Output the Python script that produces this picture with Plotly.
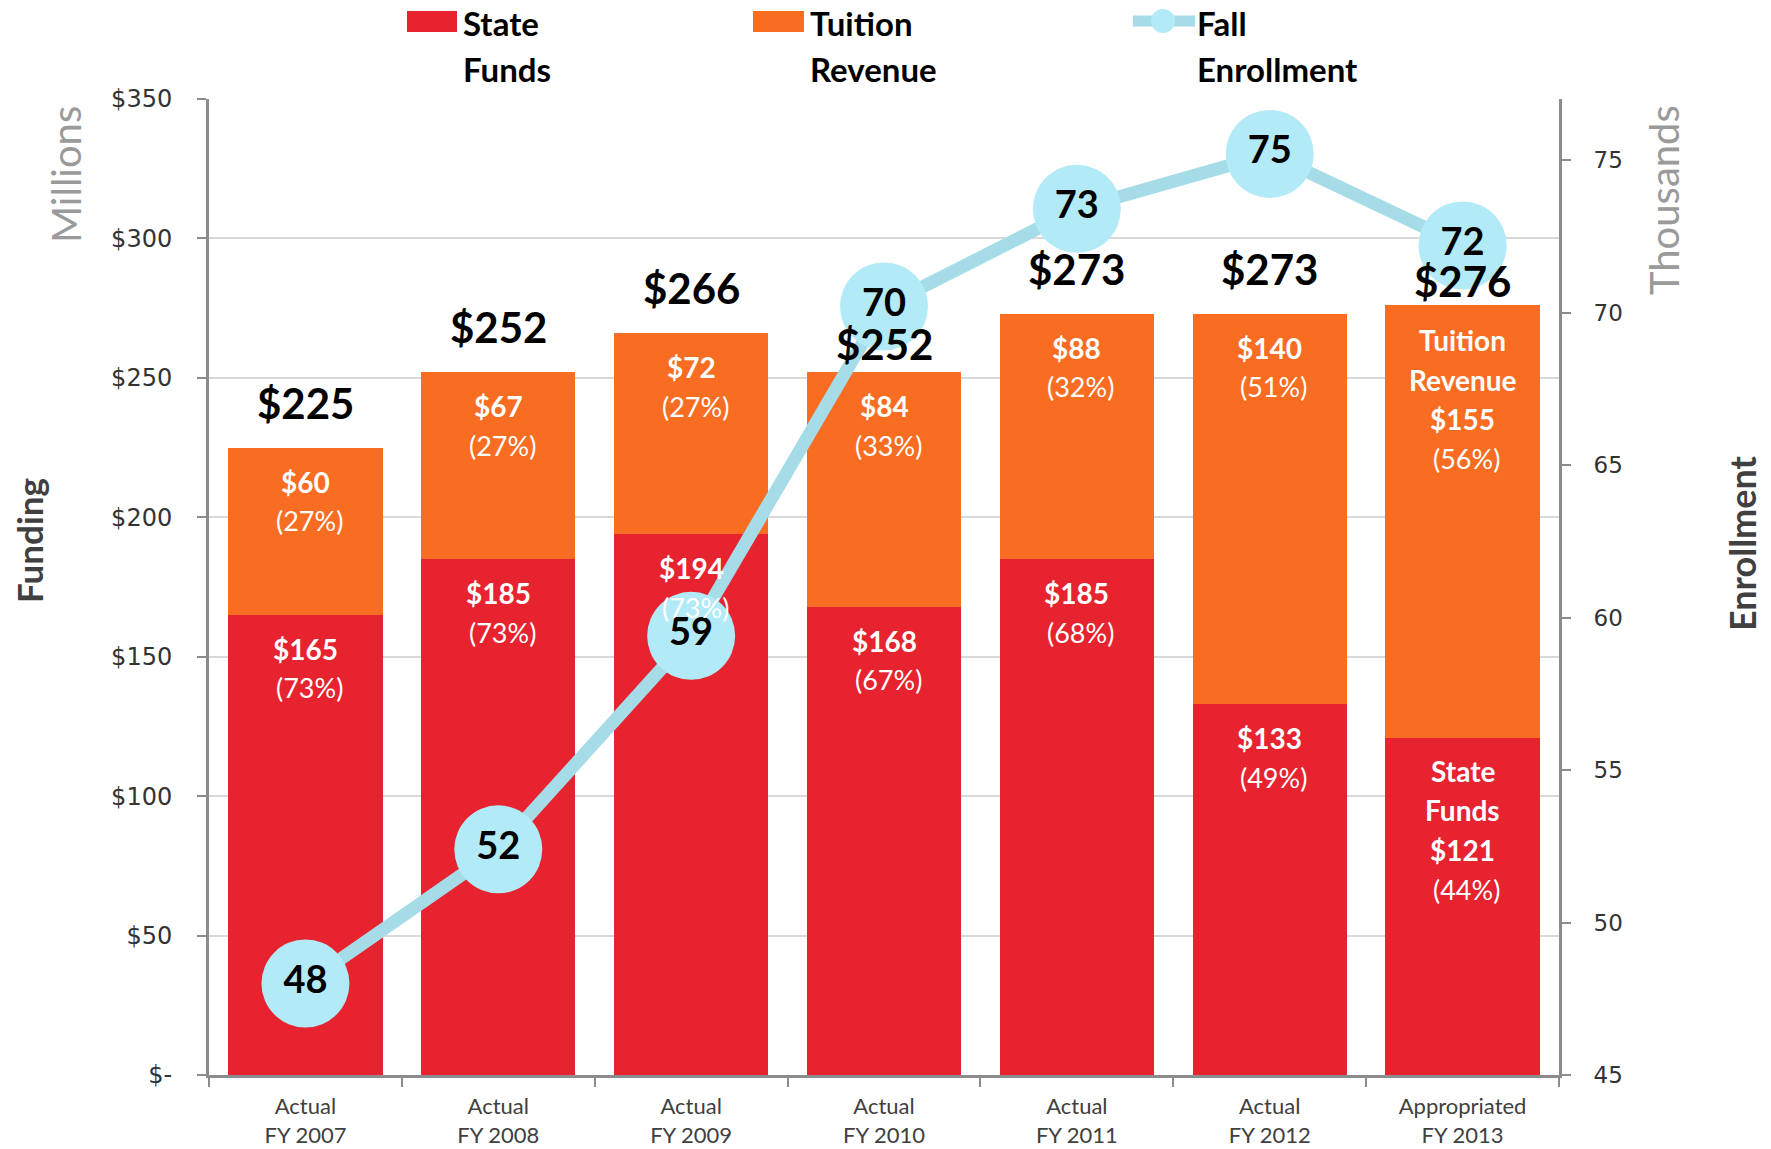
import plotly.graph_objects as go

categories = ["Actual<br>FY 2007", "Actual<br>FY 2008", "Actual<br>FY 2009", "Actual<br>FY 2010",
              "Actual<br>FY 2011", "Actual<br>FY 2012", "Appropriated<br>FY 2013"]
state_funds = [165, 185, 194, 168, 185, 133, 121]
tuition_revenue = [60, 67, 72, 84, 88, 140, 155]
totals = [225, 252, 266, 252, 273, 273, 276]
state_pct = [73, 73, 73, 67, 68, 49, 44]
tuition_pct = [27, 27, 27, 33, 32, 51, 56]
enrollment = [48.0, 52.4, 59.4, 70.2, 73.4, 75.2, 72.2]
enrollment_labels = ["48", "52", "59", "70", "73", "75", "72"]
funding_ticks = [0, 50, 100, 150, 200, 250, 300, 350]
funding_ticktext = ["$-", "$50", "$100", "$150", "$200", "$250", "$300", "$350"]
enroll_ticks = [45, 50, 55, 60, 65, 70, 75]

# style
RED = "#E6232F"
ORANGE = "#F86D22"
LINE = "#A6DCE8"
MARK = "#B2EBF7"
FONT = "Lato, 'Open Sans', sans-serif"
TICKFONT = "'DejaVu Sans', Verdana, sans-serif"
total_label_offset = [45, 45, 45, 28, 45, 45, 24]

W, H = 1771, 1149
OFF = 8  # page body margin
# plot area in window pixels: left 209, right 1559, top 99, bottom 1075
ML, MR, MT, MB = 209 - OFF, W - (1559 - OFF), 99 - OFF, H - (1075 - OFF)
PW, PH = W - ML - MR, H - MT - MB


def px(xp, yp):
    # window pixel -> paper coordinates
    return (xp - OFF - ML) / PW, (H - MB - (yp - OFF)) / PH


fig = go.Figure()
fig.add_trace(go.Bar(x=categories, y=state_funds, name="State Funds", marker=dict(color=RED, line=dict(width=0)),
                     yaxis="y"))
fig.add_trace(go.Bar(x=categories, y=tuition_revenue, name="Tuition Revenue",
                     marker=dict(color=ORANGE, line=dict(width=0)), yaxis="y"))
fig.add_trace(go.Scatter(x=categories, y=enrollment, name="Fall Enrollment", yaxis="y2",
                         mode="lines+markers+text", text=enrollment_labels, textposition="middle center",
                         textfont=dict(family=FONT, size=38, color="black", weight="bold"),
                         line=dict(color=LINE, width=13),
                         marker=dict(size=88, color=MARK, line=dict(width=0))))

ann = []
n = len(categories)
for i in range(n):
    c = categories[i]
    ann.append(dict(x=c, y=totals[i], xref="x", yref="y", text="<b>$%d</b>" % totals[i], showarrow=False,
                    yshift=total_label_offset[i], font=dict(family=FONT, size=42, color="black")))
    if i < n - 1:
        ann.append(dict(x=c, y=totals[i], xref="x", yref="y", text="<b>$%d</b>" % tuition_revenue[i],
                        showarrow=False, yshift=-34, font=dict(family=FONT, size=28, color="white")))
        ann.append(dict(x=c, y=totals[i], xref="x", yref="y", text="(%d%%)" % tuition_pct[i],
                        showarrow=False, yshift=-73, xshift=4, font=dict(family=FONT, size=27, color="white")))
        ann.append(dict(x=c, y=state_funds[i], xref="x", yref="y", text="<b>$%d</b>" % state_funds[i],
                        showarrow=False, yshift=-34, font=dict(family=FONT, size=28, color="white")))
        ann.append(dict(x=c, y=state_funds[i], xref="x", yref="y", text="(%d%%)" % state_pct[i],
                        showarrow=False, yshift=-73, xshift=4, font=dict(family=FONT, size=27, color="white")))
    else:
        lines_t = ["<b>Tuition</b>", "<b>Revenue</b>", "<b>$%d</b>" % tuition_revenue[i], "(%d%%)" % tuition_pct[i]]
        lines_s = ["<b>State</b>", "<b>Funds</b>", "<b>$%d</b>" % state_funds[i], "(%d%%)" % state_pct[i]]
        for k in range(4):
            sz = 27 if k == 3 else 28
            ann.append(dict(x=c, y=totals[i], xref="x", yref="y", text=lines_t[k], showarrow=False,
                            yshift=-35 - 39.5 * k, xshift=4 if k == 3 else 0,
                            font=dict(family=FONT, size=sz, color="white")))
            ann.append(dict(x=c, y=state_funds[i], xref="x", yref="y", text=lines_s[k], showarrow=False,
                            yshift=-33 - 39.5 * k, xshift=4 if k == 3 else 0,
                            font=dict(family=FONT, size=sz, color="white")))


def title_ann(xp, yp, text, size, color):
    x, y = px(xp, yp)
    return dict(x=x, y=y, xref="paper", yref="paper", text=text, showarrow=False, textangle=-90,
                xanchor="center", yanchor="middle", font=dict(family=FONT, size=size, color=color))


ann.append(title_ann(66, 175, "Millions", 40, "#9A9A9A"))
ann.append(title_ann(29, 541, "<b>Funding</b>", 35, "#404040"))
ann.append(title_ann(1664, 200, "Thousands", 40, "#9A9A9A"))
ann.append(title_ann(1742, 543, "<b>Enrollment</b>", 36, "#404040"))

shapes = []


def rect(x0, y0, x1, y1, color):
    a0, b0 = px(x0, y1)
    a1, b1 = px(x1, y0)
    return dict(type="rect", xref="paper", yref="paper", x0=a0, y0=b0, x1=a1, y1=b1,
                fillcolor=color, line=dict(width=0))


shapes.append(rect(407, 11, 457, 32, RED))
shapes.append(rect(753, 11, 804, 32, ORANGE))
lx0, ly = px(1133, 21)
lx1, _ = px(1195, 21)
shapes.append(dict(type="line", xref="paper", yref="paper", x0=lx0, x1=lx1, y0=ly, y1=ly,
                   line=dict(color=LINE, width=11)))
cx0, cy0 = px(1151, 33)
cx1, cy1 = px(1175, 9)
shapes.append(dict(type="circle", xref="paper", yref="paper", x0=cx0, y0=cy0, x1=cx1, y1=cy1,
                   fillcolor=MARK, line=dict(width=0)))


def leg_text(xp, yp, text):
    x, y = px(xp, yp)
    return dict(x=x, y=y, xref="paper", yref="paper", text="<b>%s</b>" % text, showarrow=False,
                xanchor="left", yanchor="middle", borderpad=0,
                font=dict(family=FONT, size=33, color="black"))


for (xp, t1, t2) in [(462, "State", "Funds"), (809, "Tuition", "Revenue"), (1196, "Fall", "Enrollment")]:
    ann.append(leg_text(xp, 23, t1))
    ann.append(leg_text(xp, 69, t2))

fig.update_layout(
    width=W, height=H,
    margin=dict(l=ML, r=MR, t=MT, b=MB, autoexpand=False),
    barmode="stack", bargap=0.2,
    plot_bgcolor="white", paper_bgcolor="white",
    showlegend=False,
    annotations=ann, shapes=shapes,
    xaxis=dict(range=[-0.5, n - 0.5], showline=True, linecolor="#8C8C8C", linewidth=3, ticks="outside",
               tickson="boundaries", ticklen=9, tickcolor="#8C8C8C", tickwidth=2, ticklabelstandoff=10,
               tickfont=dict(family=FONT, size=22, color="#404040"), showgrid=False),
    yaxis=dict(range=[0, 350], tickvals=funding_ticks, ticktext=funding_ticktext, showline=True,
               linecolor="#8C8C8C", linewidth=3, ticks="outside", ticklen=9, tickcolor="#8C8C8C", tickwidth=2,
               ticklabelstandoff=20,
               tickfont=dict(family=TICKFONT, size=24, color="#333333"), showgrid=True,
               gridcolor="#D9D9D9", gridwidth=2, zeroline=False),
    yaxis2=dict(range=[45, 77], tickvals=enroll_ticks, overlaying="y", side="right", showline=True,
                linecolor="#8C8C8C", linewidth=3, ticks="outside", ticklen=9, tickcolor="#8C8C8C", tickwidth=2,
                ticklabelstandoff=18,
                tickfont=dict(family=TICKFONT, size=23, color="#333333"), showgrid=False, zeroline=False),
)

fig.write_html("out.html")
